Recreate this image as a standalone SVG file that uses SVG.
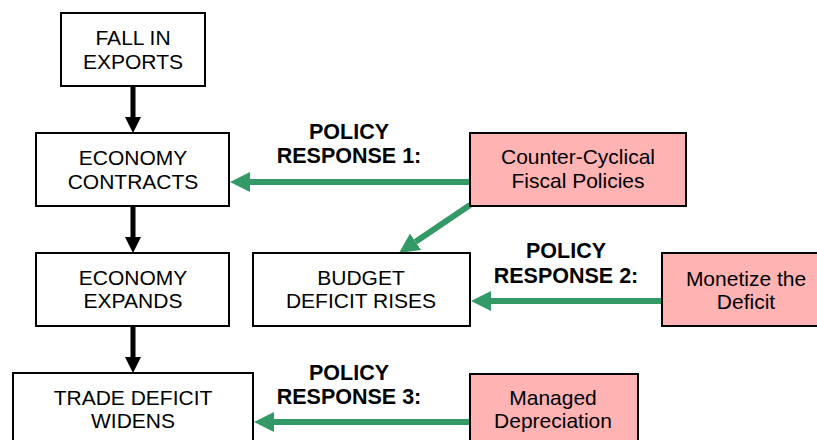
<svg xmlns="http://www.w3.org/2000/svg" width="817" height="440" viewBox="0 0 817 440">
<style>
.box{fill:#fff;stroke:#000;stroke-width:2}
.pol{fill:#ffb3b3;stroke:#000;stroke-width:2}
.t{font-family:"Liberation Sans",Arial,sans-serif;font-size:21px;text-anchor:middle;fill:#000}
.b{font-weight:bold;font-size:21.5px}
.blk{stroke:#000;stroke-width:5;fill:none;marker-end:url(#hb)}
.grn{stroke:#339966;stroke-width:6;fill:none;marker-end:url(#hg)}
</style>
<defs>
<marker id="hb" markerUnits="userSpaceOnUse" markerWidth="16" markerHeight="16" refX="0" refY="8" orient="auto"><path d="M0,0 L16,8 L0,16 z" fill="#000"/></marker>
<marker id="hg" markerUnits="userSpaceOnUse" markerWidth="20" markerHeight="20" refX="0" refY="10" orient="auto"><path d="M0,0 L20,10 L0,20 z" fill="#339966"/></marker>
</defs>
<rect width="817" height="440" fill="#fff"/>
<g id="connectors">
<line class="blk" x1="133" y1="86" x2="133" y2="117"/>
<line class="blk" x1="133" y1="206" x2="133" y2="237"/>
<line class="blk" x1="133" y1="326" x2="133" y2="357"/>
<line class="grn" x1="470" y1="182" x2="250" y2="182"/>
<line class="grn" x1="470" y1="205" x2="415.6" y2="241.8"/>
<line class="grn" x1="662" y1="301" x2="491" y2="301"/>
<line class="grn" x1="470" y1="422" x2="274" y2="422"/>
</g>
<g id="fall"><rect class="box" x="61" y="13" width="144" height="73"/><text class="t" x="133" y="45">FALL IN</text><text class="t" x="133" y="69">EXPORTS</text></g>
<g id="contracts"><rect class="box" x="36" y="133" width="193" height="73"/><text class="t" x="133" y="165">ECONOMY</text><text class="t" x="133" y="189">CONTRACTS</text></g>
<g id="expands"><rect class="box" x="36" y="253" width="193" height="73"/><text class="t" x="133" y="285">ECONOMY</text><text class="t" x="133" y="308">EXPANDS</text></g>
<g id="trade"><rect class="box" x="13" y="373" width="240" height="80"/><text class="t" x="133" y="405">TRADE DEFICIT</text><text class="t" x="133" y="428">WIDENS</text></g>
<g id="budget"><rect class="box" x="253" y="253" width="217" height="73"/><text class="t" x="361" y="285">BUDGET</text><text class="t" x="361" y="308">DEFICIT RISES</text></g>
<g id="counter"><rect class="pol" x="470" y="133" width="216" height="73"/><text class="t" x="578" y="164">Counter-Cyclical</text><text class="t" x="578" y="188">Fiscal Policies</text></g>
<g id="monetize"><rect class="pol" x="662" y="253" width="170" height="73"/><text class="t" x="746" y="286">Monetize the</text><text class="t" x="746" y="309">Deficit</text></g>
<g id="managed"><rect class="pol" x="470" y="374" width="168" height="80"/><text class="t" x="553" y="405">Managed</text><text class="t" x="553" y="428">Depreciation</text></g>
<g id="label1"><text class="t b" x="349" y="139">POLICY</text><text class="t b" x="349" y="163">RESPONSE 1:</text></g>
<g id="label2"><text class="t b" x="566" y="258">POLICY</text><text class="t b" x="566" y="283">RESPONSE 2:</text></g>
<g id="label3"><text class="t b" x="349" y="380">POLICY</text><text class="t b" x="349" y="404">RESPONSE 3:</text></g>
</svg>
